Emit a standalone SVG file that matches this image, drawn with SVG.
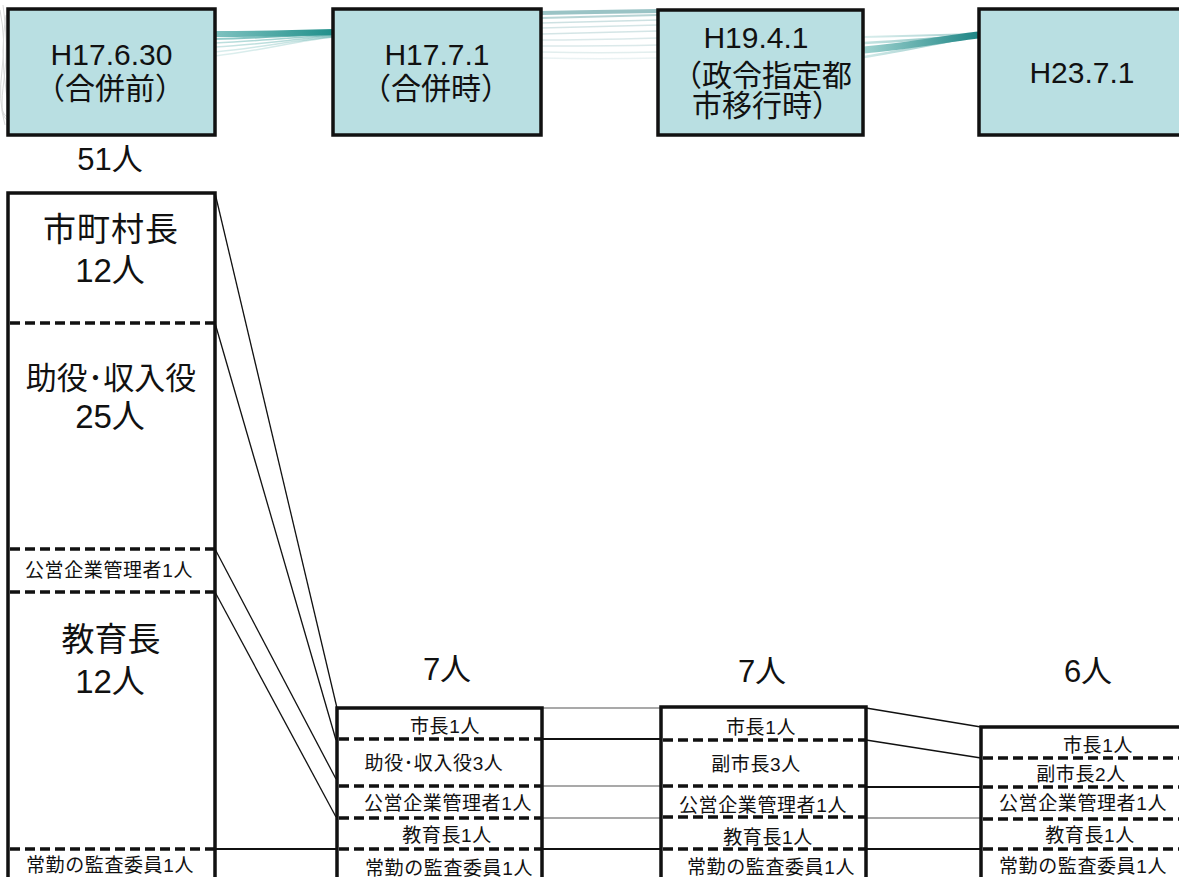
<svg xmlns="http://www.w3.org/2000/svg" width="1179" height="877" viewBox="0 0 1179 877">
<style>
text{font-family:"Liberation Sans","Noto Sans CJK JP",sans-serif;fill:#111;text-anchor:middle}
.hd{font-size:30px}
.big{font-size:33px}
.cnt{font-size:31px}
.sm{font-size:19px;letter-spacing:0.6px}
.hbox{fill:#B9DFE2;stroke:#111;stroke-width:3.5}
.col{fill:#fff;stroke:#111;stroke-width:3.5}
.dash{stroke:#111;stroke-width:3.5;stroke-dasharray:10 5;fill:none}
.c{stroke:#111;stroke-width:1.3;fill:none}
.cg{stroke:#555;stroke-width:1.1;fill:none}
.cb{stroke:#111;stroke-width:2;fill:none}
</style>
<defs>
<linearGradient id="rib1" x1="0" y1="0" x2="1" y2="0">
<stop offset="0" stop-color="#7fc2c0"/><stop offset="1" stop-color="#1f8f8a"/>
</linearGradient>
<linearGradient id="rib3" x1="0" y1="0" x2="1" y2="0">
<stop offset="0" stop-color="#9fd3d0"/><stop offset="1" stop-color="#1e8585"/>
</linearGradient>
</defs>
<g id="decor" fill="none">
<g stroke="#c8c8c8" stroke-width="1" opacity="0.7">
<path d="M0 10 Q6 40 2 70 T5 125"/><path d="M3 5 Q9 45 4 80 T7 120"/><path d="M6 15 Q0 50 6 90 T2 110"/>
</g>
<g stroke="url(#rib1)">
<path d="M215 34 C260 34 300 33 334 32" stroke-width="6"/>
<path d="M215 39 C260 38 300 35 334 34" stroke-width="2" opacity="0.8"/>
<path d="M215 43 C260 41 300 37 334 35" stroke-width="1.5" opacity="0.5"/>
<path d="M215 47 C260 45 300 38 334 36" stroke-width="1.5" opacity="0.4"/>
<path d="M215 52 C260 48 300 39 334 37" stroke-width="1.5" opacity="0.3"/>
<path d="M215 56 C260 51 300 40 334 37" stroke-width="1.5" opacity="0.25"/>
</g>
<g stroke="#6fa9ac" stroke-width="1.5">
<path d="M541 13 C580 12 620 12 658 11" stroke-width="4" opacity="0.7"/>
<path d="M541 18 C580 17 620 16 658 15" stroke-width="2" opacity="0.5"/>
<path d="M541 23 C580 22 620 21 658 20" opacity="0.35"/>
<path d="M541 28 C580 27 620 26 658 25" opacity="0.3"/>
<path d="M541 34 C580 33 620 32 658 31" opacity="0.3"/>
<path d="M541 40 C580 40 620 39 658 38" opacity="0.25"/>
<path d="M541 46 C580 46 620 46 658 45" opacity="0.25"/>
<path d="M541 52 C580 53 620 53 658 52" opacity="0.2"/>
<path d="M541 58 C580 59 620 59 658 58" opacity="0.15"/>
</g>
<g stroke="url(#rib3)">
<path d="M864 50 C910 46 950 38 979 35" stroke-width="7"/>
<path d="M864 43 C910 41 950 37 979 35" stroke-width="2.5" opacity="0.6"/>
<path d="M864 37 C910 36 950 35 979 34" stroke-width="2" opacity="0.4"/>
<path d="M864 57 C910 50 950 40 979 36" stroke-width="2.5" opacity="0.5"/>
</g>
</g>
<g id="h1"><rect class="hbox" x="8" y="9" width="207" height="126"/><text class="hd" x="111.5" y="65">H17.6.30</text><text class="hd" x="110" y="99">（合併前）</text></g>
<g id="h2"><rect class="hbox" x="333" y="9" width="208" height="126"/><text class="hd" x="437" y="65">H17.7.1</text><text class="hd" x="436" y="99">（合併時）</text></g>
<g id="h3"><rect class="hbox" x="658" y="10" width="205" height="125"/><text class="hd" x="756" y="48">H19.4.1</text><text class="hd" x="762" y="86">（政令指定都</text><text class="hd" x="767" y="116">市移行時）</text></g>
<g id="h4"><rect class="hbox" x="979" y="9" width="207" height="126"/><text class="hd" x="1082" y="83">H23.7.1</text></g>
<g id="connectors">
<line class="c" x1="215" y1="193" x2="337" y2="708"/>
<line class="c" x1="215" y1="323" x2="336" y2="740"/>
<line class="c" x1="215" y1="549" x2="336" y2="779"/>
<line class="c" x1="215" y1="592" x2="336" y2="817"/>
<line class="cb" x1="215" y1="849" x2="337" y2="849"/>
<line class="cg" x1="542" y1="708" x2="661" y2="708"/>
<line class="cb" x1="542" y1="739" x2="661" y2="739"/>
<line class="cg" x1="542" y1="786" x2="661" y2="786"/>
<line class="cg" x1="542" y1="818" x2="661" y2="818"/>
<line class="cb" x1="542" y1="849" x2="661" y2="849"/>
<line class="c" x1="866" y1="708" x2="981" y2="727"/>
<line class="c" x1="866" y1="740" x2="981" y2="758"/>
<line class="cb" x1="866" y1="787" x2="981" y2="787"/>
<line class="cg" x1="866" y1="818" x2="981" y2="818"/>
<line class="cb" x1="866" y1="849" x2="981" y2="849"/>
</g>
<g id="col1">
<text class="cnt" x="110" y="170">51人</text>
<rect class="col" x="8" y="193" width="207" height="700"/>
<line class="dash" x1="10" y1="323" x2="214" y2="323"/>
<line class="dash" x1="10" y1="549" x2="214" y2="549"/>
<line class="dash" x1="10" y1="592" x2="214" y2="592"/>
<line class="dash" x1="10" y1="849" x2="214" y2="849"/>
<text class="big" x="111" y="241" style="letter-spacing:1px">市町村長</text>
<text class="big" x="110" y="282">12人</text>
<text class="big" x="111" y="389" style="font-size:31px">助役･収入役</text>
<text class="big" x="110" y="428">25人</text>
<text class="sm" x="109" y="577">公営企業管理者1人</text>
<text class="big" x="111" y="651">教育長</text>
<text class="big" x="110" y="693">12人</text>
<text class="sm" x="110" y="872">常勤の監査委員1人</text>
</g>
<g id="col2">
<text class="cnt" x="447" y="680">7人</text>
<rect class="col" x="337" y="708" width="205" height="190"/>
<line class="dash" x1="339" y1="739" x2="541" y2="739"/>
<line class="dash" x1="339" y1="786" x2="541" y2="786"/>
<line class="dash" x1="339" y1="818" x2="541" y2="818"/>
<line class="dash" x1="339" y1="849" x2="541" y2="849"/>
<text class="sm" x="445" y="733">市長1人</text>
<text class="sm" x="434" y="770">助役･収入役3人</text>
<text class="sm" x="448" y="810">公営企業管理者1人</text>
<text class="sm" x="447" y="842">教育長1人</text>
<text class="sm" x="449" y="875">常勤の監査委員1人</text>
</g>
<g id="col3">
<text class="cnt" x="762" y="682">7人</text>
<rect class="col" x="661" y="707" width="205" height="190"/>
<line class="dash" x1="663" y1="740" x2="865" y2="740"/>
<line class="dash" x1="663" y1="786" x2="865" y2="786"/>
<line class="dash" x1="663" y1="817" x2="865" y2="817"/>
<line class="dash" x1="663" y1="849" x2="865" y2="849"/>
<text class="sm" x="761" y="734">市長1人</text>
<text class="sm" x="756" y="771">副市長3人</text>
<text class="sm" x="763" y="812">公営企業管理者1人</text>
<text class="sm" x="768" y="844">教育長1人</text>
<text class="sm" x="771" y="874">常勤の監査委員1人</text>
</g>
<g id="col4">
<text class="cnt" x="1088" y="682">6人</text>
<rect class="col" x="981" y="727" width="205" height="170"/>
<line class="dash" x1="983" y1="758" x2="1185" y2="758"/>
<line class="dash" x1="983" y1="787" x2="1185" y2="787"/>
<line class="dash" x1="983" y1="819" x2="1185" y2="819"/>
<line class="dash" x1="983" y1="849" x2="1185" y2="849"/>
<text class="sm" x="1098" y="752">市長1人</text>
<text class="sm" x="1081" y="781">副市長2人</text>
<text class="sm" x="1083" y="810">公営企業管理者1人</text>
<text class="sm" x="1090" y="842">教育長1人</text>
<text class="sm" x="1083" y="873">常勤の監査委員1人</text>
</g>
</svg>
